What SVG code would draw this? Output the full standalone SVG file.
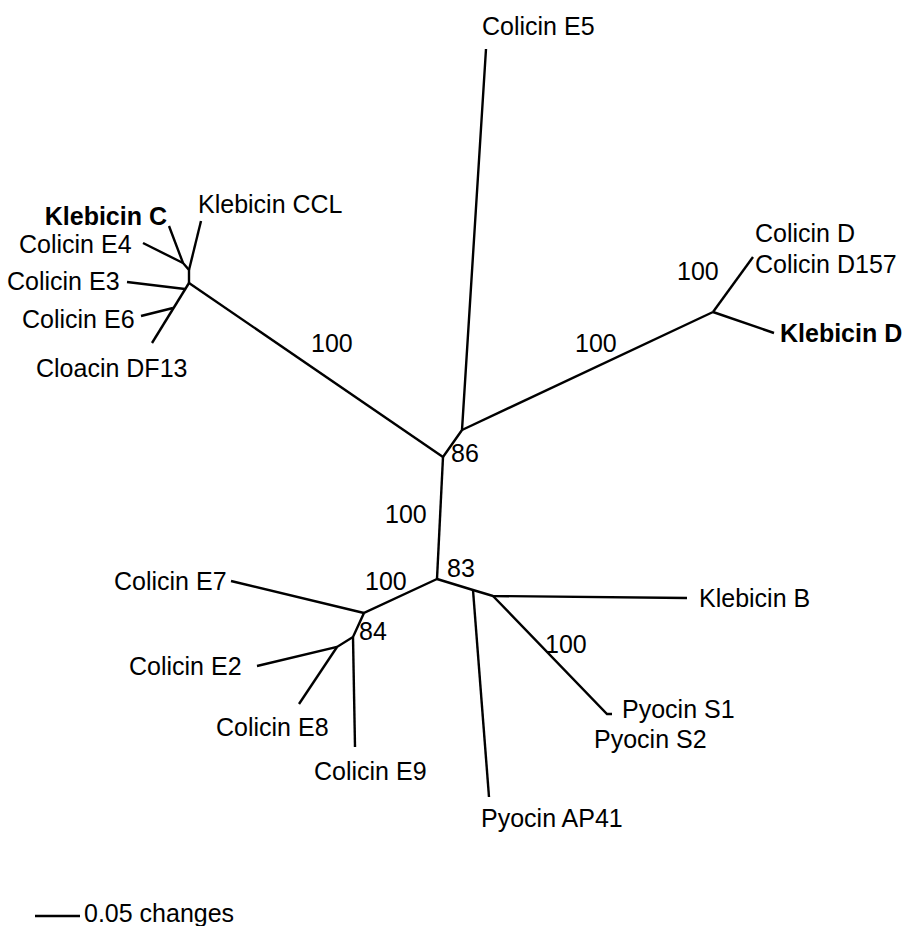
<svg xmlns="http://www.w3.org/2000/svg" width="903" height="926" viewBox="0 0 903 926">
  <style>
    .br { fill: none; stroke: #000; stroke-width: 2.4; stroke-linecap: butt; stroke-linejoin: miter; }
    text { font-family: "Liberation Sans", Arial, sans-serif; font-size: 25px; fill: #000; }
    .b { font-weight: bold; }
    .bs { font-size: 25px; }
  </style>
  <rect width="903" height="926" fill="#fff"/>

  <!-- branches of the unrooted tree -->
  <g id="connectors" class="br">
    <!-- colicin E3 group (upper left) -->
    <polyline points="169,226 183,263 189,270 189,283"/>
    <line x1="143" y1="243" x2="183" y2="263"/>
    <line x1="201" y1="221" x2="189" y2="270"/>
    <polyline points="189,283 152,343"/>
    <line x1="127" y1="282" x2="185" y2="289"/>
    <line x1="141" y1="316" x2="173" y2="308"/>
    <line x1="189" y1="283" x2="443" y2="457"/>
    <!-- central spine -->
    <polyline points="443,457 462,430 486,49"/>
    <line x1="462" y1="430" x2="713" y2="312"/>
    <line x1="713" y1="312" x2="753" y2="257"/>
    <line x1="713" y1="312" x2="774" y2="333"/>
    <line x1="443" y1="457" x2="437" y2="579"/>
    <!-- colicin E2/E7/E8/E9 group -->
    <polyline points="437,579 364,613 353,637 337,647 257,666"/>
    <line x1="231" y1="581" x2="364" y2="613"/>
    <line x1="337" y1="647" x2="299" y2="704"/>
    <line x1="353" y1="637" x2="355" y2="747"/>
    <!-- pyocin / klebicin B group -->
    <polyline points="437,579 473,590 493,596 687,598"/>
    <line x1="473" y1="590" x2="489" y2="797"/>
    <polyline points="493,596 607,714 612,714"/>
    <!-- scale bar -->
    <line x1="35" y1="916" x2="80" y2="916"/>
  </g>

  <!-- leaves -->
  <g id="colicin-e5"><text x="482" y="35">Colicin E5</text></g>
  <g id="klebicin-c"><text class="b" x="167" y="225" text-anchor="end">Klebicin C</text></g>
  <g id="klebicin-ccl"><text x="198" y="213">Klebicin CCL</text></g>
  <g id="colicin-e4"><text x="19" y="253">Colicin E4</text></g>
  <g id="colicin-e3"><text x="7" y="290">Colicin E3</text></g>
  <g id="colicin-e6"><text x="22" y="328">Colicin E6</text></g>
  <g id="cloacin-df13"><text x="36" y="377">Cloacin DF13</text></g>
  <g id="colicin-d"><text x="755" y="242">Colicin D</text></g>
  <g id="colicin-d157"><text x="755" y="273">Colicin D157</text></g>
  <g id="klebicin-d"><text class="b" x="780" y="342">Klebicin D</text></g>
  <g id="colicin-e7"><text x="114" y="590">Colicin E7</text></g>
  <g id="colicin-e2"><text x="129" y="675">Colicin E2</text></g>
  <g id="colicin-e8"><text x="216" y="736">Colicin E8</text></g>
  <g id="colicin-e9"><text x="314" y="780">Colicin E9</text></g>
  <g id="pyocin-ap41"><text x="481" y="827">Pyocin AP41</text></g>
  <g id="klebicin-b"><text x="699" y="607">Klebicin B</text></g>
  <g id="pyocin-s1"><text x="622" y="718">Pyocin S1</text></g>
  <g id="pyocin-s2"><text x="594" y="748">Pyocin S2</text></g>

  <!-- bootstrap support values -->
  <g id="support" class="bs">
    <text x="311" y="352">100</text>
    <text x="677" y="280">100</text>
    <text x="575" y="352">100</text>
    <text x="451" y="462">86</text>
    <text x="385" y="523">100</text>
    <text x="447" y="577">83</text>
    <text x="365" y="590">100</text>
    <text x="359" y="640">84</text>
    <text x="545" y="653">100</text>
  </g>

  <g id="scale"><text x="84" y="922">0.05 changes</text></g>
</svg>
